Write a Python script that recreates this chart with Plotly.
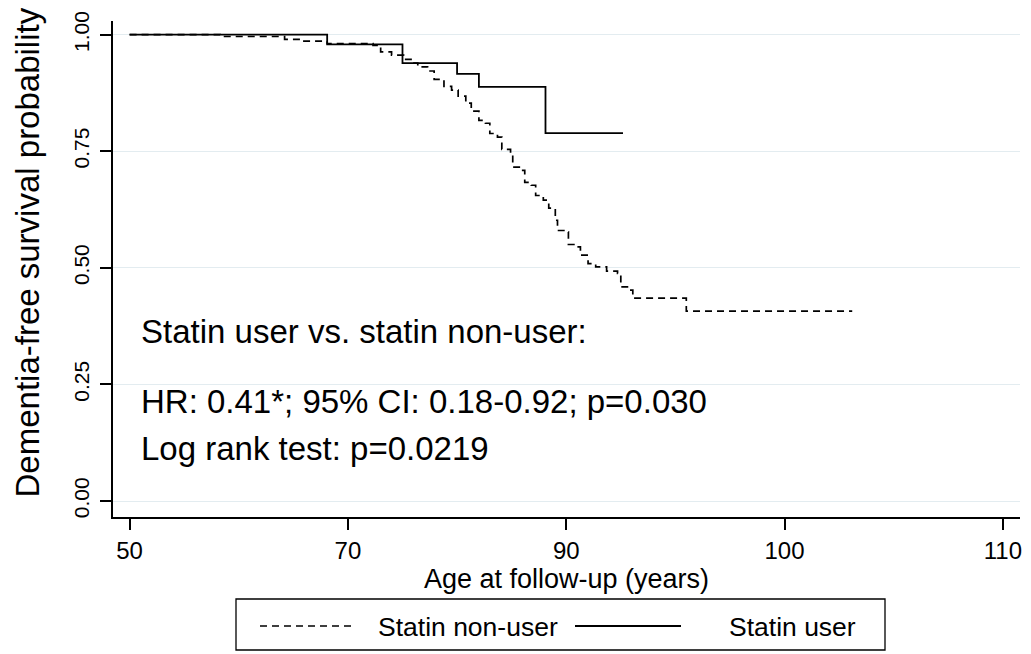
import plotly.graph_objects as go

# ---- data (x in axis units: tick positions 50,70,90,110,130 are labelled 50,70,90,100,110) ----
nonuser_age = [50.0, 58.3, 64.2, 65.8, 68.1, 72.3, 73.0, 74.0, 75.1, 75.9, 76.4, 77.3,
               77.9, 78.8, 79.5, 80.1, 80.8, 81.3, 82.0, 82.6, 83.0, 83.7, 84.1, 84.9,
               85.1, 85.8, 86.2, 86.8, 87.2, 87.9, 88.4, 89.0, 89.2, 89.9, 90.2, 90.9,
               91.3, 92.0, 92.7, 93.7, 94.7, 95.0, 95.8, 96.1, 101.0, 116.2]
nonuser_surv = [1.000, 0.996, 0.990, 0.986, 0.981, 0.977, 0.963, 0.956, 0.947, 0.939, 0.931, 0.922,
                0.904, 0.889, 0.881, 0.868, 0.853, 0.836, 0.816, 0.810, 0.788, 0.780, 0.754, 0.745,
                0.716, 0.709, 0.683, 0.677, 0.655, 0.645, 0.628, 0.602, 0.580, 0.577, 0.550, 0.545,
                0.527, 0.509, 0.502, 0.493, 0.488, 0.459, 0.452, 0.435, 0.407, 0.407]

user_age = [50.0, 68.1, 75.0, 80.0, 82.0, 88.1, 95.2]
user_surv = [1.000, 0.979, 0.939, 0.916, 0.888, 0.789, 0.789]

x_tickvals = [50, 70, 90, 110, 130]
x_ticktext = ["50", "70", "90", "100", "110"]
y_tickvals = [0, 0.25, 0.5, 0.75, 1.0]
y_ticktext = ["0.00", "0.25", "0.50", "0.75", "1.00"]

legend_labels = ["Statin non-user", "Statin user"]
y_title = "Dementia-free survival probability"
x_title = "Age at follow-up (years)"
note_lines = ["Statin user vs. statin non-user:",
              "HR: 0.41*; 95% CI: 0.18-0.92; p=0.030",
              "Log rank test: p=0.0219"]
note_y = [0.364, 0.214, 0.113]

FONT = "Liberation Sans, Arial, Helvetica, sans-serif"

# page has an 8px body margin: lay out in page pixels, convert to figure pixels
OFF = 8
W, H = 1031 - OFF, 654 - OFF
L, R, T, B = 113 - OFF, 1020 - OFF, 21 - OFF, 517 - OFF


def px(xp):
    return (xp - OFF - L) / (R - L)


def py(yp):
    return (B - (yp - OFF)) / (B - T)


fig = go.Figure()
fig.add_trace(go.Scatter(x=nonuser_age, y=nonuser_surv, mode="lines", line_shape="hv",
                         line=dict(color="black", width=1.7, dash="7px,5px"),
                         name=legend_labels[0], showlegend=False))
fig.add_trace(go.Scatter(x=user_age, y=user_surv, mode="lines", line_shape="hv",
                         line=dict(color="black", width=1.8),
                         name=legend_labels[1], showlegend=False))

for txt, yy in zip(note_lines, note_y):
    fig.add_annotation(x=50.85, y=yy, xref="x", yref="y", text=txt, showarrow=False,
                       xanchor="left", yanchor="middle",
                       font=dict(family=FONT, size=33, color="black"))

# y-axis title (placed as rotated text, slightly above the axis centre as in the source)
fig.add_annotation(x=px(26.5), y=py(253), xref="paper", yref="paper", text=y_title,
                   showarrow=False, textangle=-90, xanchor="center", yanchor="middle",
                   font=dict(family=FONT, size=33, color="black"))

# ---- custom legend ----
fig.add_shape(type="rect", xref="paper", yref="paper",
              x0=px(236), x1=px(885), y0=py(599), y1=py(650),
              line=dict(color="black", width=1.3), fillcolor="white")
fig.add_shape(type="line", xref="paper", yref="paper",
              x0=px(260), x1=px(356), y0=py(626), y1=py(626),
              line=dict(color="black", width=1.4, dash="7px,5px"))
fig.add_shape(type="line", xref="paper", yref="paper",
              x0=px(575), x1=px(681), y0=py(626), y1=py(626),
              line=dict(color="black", width=1.8))
fig.add_annotation(x=px(376), y=py(627), xref="paper", yref="paper", text=legend_labels[0],
                   showarrow=False, xanchor="left", yanchor="middle",
                   font=dict(family=FONT, size=26.5, color="black"))
fig.add_annotation(x=px(727), y=py(627), xref="paper", yref="paper", text=legend_labels[1],
                   showarrow=False, xanchor="left", yanchor="middle",
                   font=dict(family=FONT, size=26.5, color="black"))

fig.update_layout(
    width=W, height=H,
    margin=dict(l=L, r=W - R, t=T, b=H - B),
    paper_bgcolor="white", plot_bgcolor="white",
    font=dict(family=FONT, color="black"),
)
fig.update_xaxes(range=[48.48, 131.57], tickvals=x_tickvals, ticktext=x_ticktext,
                 automargin=False,
                 showgrid=False, zeroline=False, showline=True, linecolor="black", linewidth=1.5,
                 ticks="outside", ticklen=11, tickwidth=1.5, tickcolor="black",
                 tickfont=dict(family=FONT, size=24, color="black"),
                 title=dict(text=x_title, standoff=4,
                            font=dict(family=FONT, size=27, color="black")))
fig.update_yaxes(range=[-0.0343, 1.0292], tickvals=y_tickvals, ticktext=y_ticktext,
                 automargin=False,
                 tickangle=-90, showgrid=True, gridcolor="#e3ecf0", gridwidth=1,
                 zeroline=False, showline=True, linecolor="black", linewidth=1.5,
                 ticks="outside", ticklen=11, tickwidth=1.5, tickcolor="black",
                 ticklabelstandoff=3,
                 tickfont=dict(family=FONT, size=21, color="black"))

fig.write_html("out.html")
